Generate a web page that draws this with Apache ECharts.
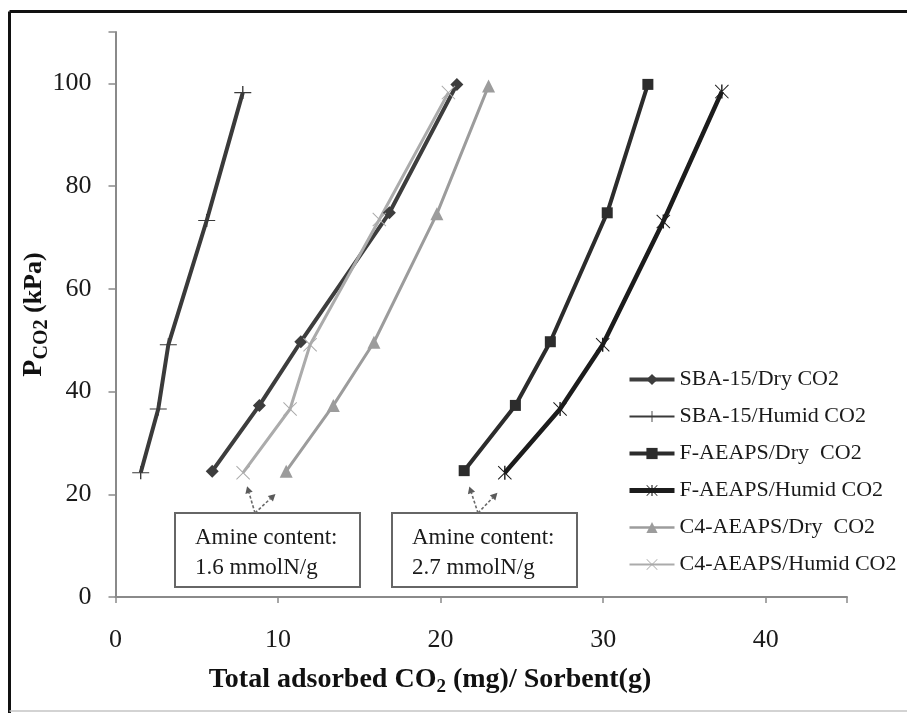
<!DOCTYPE html>
<html>
<head>
<meta charset="utf-8">
<script src="https://cdn.jsdelivr.net/npm/echarts@6/dist/echarts.min.js"></script>
<style>
  html, body { margin: 0; padding: 0; background: #fff; }
  #chart { width: 907px; height: 713px; }
</style>
</head>
<body>
<div id="chart"></div>
<script>
// Adsorption isotherms: CO2 partial pressure vs. total adsorbed CO2 per gram of sorbent
const seriesNames = [
  'SBA-15/Dry CO2',
  'SBA-15/Humid CO2',
  'F-AEAPS/Dry  CO2',
  'F-AEAPS/Humid CO2',
  'C4-AEAPS/Dry  CO2',
  'C4-AEAPS/Humid CO2'
];

const sba15DryX   = [5.95, 8.85, 11.4, 16.85, 21.0];
const sba15DryY   = [24.5, 37.3, 49.7, 74.8, 99.8];
const sba15HumidX = [1.55, 2.63, 3.25, 5.61, 7.83];
const sba15HumidY = [24.2, 36.6, 49.1, 73.3, 98.2];
const fDryX       = [21.45, 24.6, 26.75, 30.25, 32.75];
const fDryY       = [24.6, 37.3, 49.7, 74.8, 99.8];
const fHumidX     = [23.95, 27.35, 29.97, 33.7, 37.3];
const fHumidY     = [24.2, 36.6, 49.1, 73.1, 98.4];
const c4DryX      = [10.5, 13.4, 15.9, 19.77, 22.95];
const c4DryY      = [24.5, 37.3, 49.6, 74.6, 99.5];
const c4HumidX    = [7.85, 10.74, 11.97, 16.23, 20.48];
const c4HumidY    = [24.2, 36.6, 49.1, 73.5, 98.2];

const xTicks = [0, 10, 20, 30, 40];
const yTicks = [0, 20, 40, 60, 80, 100];

const annotationLines = [
  ['Amine content:', '1.6 mmolN/g'],
  ['Amine content:', '2.7 mmolN/g']
];

const SERIF = 'Liberation Serif';

function pairs(xs, ys) { return xs.map((x, i) => [x, ys[i]]); }

// thin-stroke marker shapes
const PLUS = 'path://M0,9.2H20V10.8H0Z M9.2,0H10.8V20H9.2Z';
const CROSS = 'path://M1,0L10,9L19,0L20,1L11,10L20,19L19,20L10,11L1,20L0,19L9,10L0,1Z';
const STAR = 'path://M1,0L10,9L19,0L20,1L11,10L20,19L19,20L10,11L1,20L0,19L9,10L0,1Z M9,0H11V20H9Z';

function lineSeries(name, data, color, width, symbol, size) {
  return {
    name: name,
    type: 'line',
    data: data,
    symbol: symbol,
    symbolSize: size,
    showSymbol: true,
    animation: false,
    lineStyle: { color: color, width: width },
    itemStyle: { color: color, borderWidth: 0 },
    emphasis: { disabled: true }
  };
}

const chart = echarts.init(document.getElementById('chart'), null, { renderer: 'canvas' });

const legendWidths = [4, 2, 4, 5, 2.5, 2];

const option = {
  backgroundColor: '#ffffff',
  animation: false,
  grid: { left: 115.5, right: 60, top: 32, bottom: 116, outerBoundsMode: 'none' },
  xAxis: {
    type: 'value',
    min: 0,
    max: 45,
    interval: 10,
    splitLine: { show: false },
    axisLine: { onZero: false, lineStyle: { color: '#8a8a8a', width: 2 } },
    axisTick: { show: true, length: 6, lineStyle: { color: '#8a8a8a', width: 1.5 } },
    axisLabel: {
      margin: 30,
      fontFamily: SERIF,
      fontSize: 26,
      color: '#1a1a1a',
      formatter: v => (xTicks.indexOf(v) >= 0 ? String(v) : '')
    }
  },
  yAxis: {
    type: 'value',
    min: 0,
    max: 110,
    interval: 20,
    splitLine: { show: false },
    axisLine: { onZero: false, lineStyle: { color: '#8a8a8a', width: 2 } },
    axisTick: { show: true, length: 7, lineStyle: { color: '#8a8a8a', width: 1.5 } },
    axisLabel: {
      margin: 24,
      fontFamily: SERIF,
      fontSize: 26,
      color: '#1a1a1a',
      formatter: v => (yTicks.indexOf(v) >= 0 ? String(v) : '')
    },
    name: '{p|P}{s|CO2}{u| (kPa)}',
    nameLocation: 'middle',
    nameRotate: 90,
    nameGap: 68,
    nameMoveOverlap: false,
    nameTextStyle: {
      rich: {
        p: { fontFamily: SERIF, fontWeight: 'bold', fontSize: 28, color: '#111', verticalAlign: 'bottom' },
        s: { fontFamily: SERIF, fontWeight: 'bold', fontSize: 20, color: '#111', verticalAlign: 'bottom', padding: [0, 0, -4, 0] },
        u: { fontFamily: SERIF, fontWeight: 'bold', fontSize: 26, color: '#111', verticalAlign: 'bottom' }
      }
    }
  },
  legend: {
    orient: 'vertical',
    left: 622,
    top: 363,
    itemWidth: 45,
    itemHeight: 14,
    itemGap: 14,
    selectedMode: false,
    textStyle: { fontFamily: SERIF, fontSize: 22, color: '#1a1a1a', lineHeight: 23 },
    data: seriesNames.map((n, i) => ({ name: n, lineStyle: { width: legendWidths[i] } }))
  },
  series: [
    lineSeries(seriesNames[0], pairs(sba15DryX, sba15DryY), '#3d3d3d', 4, 'diamond', [13, 13]),
    lineSeries(seriesNames[1], pairs(sba15HumidX, sba15HumidY), '#3a3a3a', 4, PLUS, [17, 13]),
    lineSeries(seriesNames[2], pairs(fDryX, fDryY), '#2c2c2c', 4, 'rect', 11),
    lineSeries(seriesNames[3], pairs(fHumidX, fHumidY), '#1c1c1c', 4.5, STAR, 14),
    lineSeries(seriesNames[4], pairs(c4DryX, c4DryY), '#9c9c9c', 3, 'triangle', 13),
    lineSeries(seriesNames[5], pairs(c4HumidX, c4HumidY), '#ababab', 3, CROSS, 14)
  ]
};

chart.setOption(option);

// Annotation boxes with dashed arrows pointing at the first points of the labelled series
const boxes = [
  { x: 175, y: 513, w: 185, h: 74, anchor: 80, targets: [[c4HumidX[0], c4HumidY[0]], [c4DryX[0], c4DryY[0]]] },
  { x: 392, y: 513, w: 185, h: 74, anchor: 86, targets: [[fDryX[0], fDryY[0]], [fHumidX[0], fHumidY[0]]] }
];

const graphics = [
  // outer frame
  { type: 'line', shape: { x1: 9.5, y1: 11.5, x2: 907, y2: 11.5 }, style: { stroke: '#111', lineWidth: 3 }, z: 100 },
  { type: 'line', shape: { x1: 9.5, y1: 11.5, x2: 9.5, y2: 713 }, style: { stroke: '#111', lineWidth: 3 }, z: 100 },
  { type: 'line', shape: { x1: 9.5, y1: 711, x2: 907, y2: 711 }, style: { stroke: '#c4c4c4', lineWidth: 1.5 }, z: 100 },
  // x-axis title
  {
    type: 'text',
    x: 430,
    y: 680,
    z: 100,
    style: {
      text: '{a|Total adsorbed CO}{s|2}{a| (mg)/ Sorbent(g)}',
      align: 'center',
      verticalAlign: 'middle',
      rich: {
        a: { fontFamily: SERIF, fontWeight: 'bold', fontSize: 28, fill: '#111', verticalAlign: 'bottom' },
        s: { fontFamily: SERIF, fontWeight: 'bold', fontSize: 19, fill: '#111', verticalAlign: 'bottom', padding: [0, 0, -3, 0] }
      }
    }
  }
];

const ARROW_LEN = 28;
const HEAD = 7;

boxes.forEach((b, bi) => {
  graphics.push({
    type: 'rect',
    shape: { x: b.x, y: b.y, width: b.w, height: b.h },
    style: { fill: '#fff', stroke: '#666', lineWidth: 2 },
    z: 90
  });
  annotationLines[bi].forEach((t, li) => {
    graphics.push({
      type: 'text',
      x: b.x + 20,
      y: b.y + 25 + li * 30,
      z: 91,
      style: { text: t, fontFamily: SERIF, fontSize: 23, fill: '#1a1a1a', verticalAlign: 'middle', align: 'left' }
    });
  });
  const ox = b.x + b.anchor;
  const oy = b.y;
  b.targets.forEach((pt, ti) => {
    const p = chart.convertToPixel({ gridIndex: 0 }, pt);
    let dx = p[0] - ox, dy = p[1] - oy;
    const L = Math.sqrt(dx * dx + dy * dy);
    dx /= L; dy /= L;
    // the right-hand arrow leans out at a wider angle
    if (ti === 1) {
      const ang = Math.atan2(dy, dx) + 0.18;
      dx = Math.cos(ang); dy = Math.sin(ang);
    }
    const tx = ox + dx * ARROW_LEN, ty = oy + dy * ARROW_LEN;
    const bx = tx - dx * HEAD, by = ty - dy * HEAD;
    const nx = -dy, ny = dx;
    graphics.push({
      type: 'line',
      shape: { x1: ox, y1: oy, x2: bx, y2: by },
      style: { stroke: '#6a6a6a', lineWidth: 1.6, lineDash: [3, 2] },
      z: 92
    });
    graphics.push({
      type: 'polygon',
      shape: { points: [[tx, ty], [bx + nx * 3.8, by + ny * 3.8], [bx - nx * 3.8, by - ny * 3.8]] },
      style: { fill: '#5a5a5a' },
      z: 92
    });
  });
});

chart.setOption({ graphic: graphics });
</script>
</body>
</html>
